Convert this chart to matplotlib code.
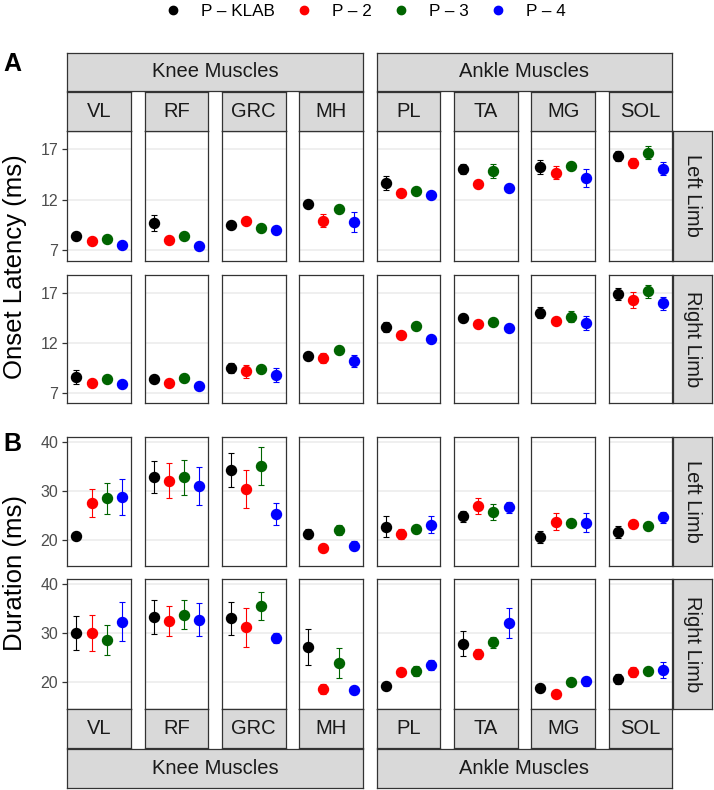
# -*- coding: utf-8 -*-

"""
Onset latency and burst duration per muscle, for the four protocols
"""

import matplotlib
matplotlib.use("Agg")
import matplotlib.pyplot as plt
from matplotlib.lines import Line2D

plt.rcParams['font.family'] = ['Liberation Sans', 'DejaVu Sans']

# data
muscles = ['VL', 'RF', 'GRC', 'MH', 'PL', 'TA', 'MG', 'SOL']
groups = ['Knee Muscles', 'Ankle Muscles']
limbs = ['Left Limb', 'Right Limb']
protocols = ['P – KLAB', 'P – 2', 'P – 3', 'P – 4']
colors = ['#000000', '#FF0000', '#006400', '#0000FF']

onset_left = [
    [8.43, 7.91, 8.10, 7.49],
    [9.73, 8.04, 8.40, 7.39],
    [9.47, 9.86, 9.21, 9.05],
    [11.58, 9.92, 11.12, 9.79],
    [13.69, 12.68, 12.91, 12.49],
    [15.02, 13.59, 14.82, 13.14],
    [15.25, 14.66, 15.34, 14.18],
    [16.35, 15.64, 16.64, 15.08],
]
onset_left_err = [
    [0.25, 0.15, 0.15, 0.15],
    [0.80, 0.15, 0.20, 0.15],
    [0.20, 0.20, 0.20, 0.20],
    [0.20, 0.65, 0.15, 1.00],
    [0.70, 0.15, 0.15, 0.15],
    [0.50, 0.15, 0.70, 0.15],
    [0.70, 0.65, 0.20, 0.90],
    [0.50, 0.50, 0.65, 0.65],
]
onset_right = [
    [8.59, 7.97, 8.43, 7.91],
    [8.40, 7.97, 8.46, 7.65],
    [9.50, 9.14, 9.40, 8.75],
    [10.70, 10.51, 11.32, 10.18],
    [13.59, 12.81, 13.69, 12.39],
    [14.50, 13.82, 14.11, 13.49],
    [14.99, 14.18, 14.60, 14.01],
    [16.87, 16.22, 17.13, 15.93],
]
onset_right_err = [
    [0.65, 0.15, 0.20, 0.15],
    [0.30, 0.15, 0.35, 0.15],
    [0.50, 0.60, 0.20, 0.70],
    [0.20, 0.50, 0.20, 0.60],
    [0.50, 0.15, 0.20, 0.15],
    [0.40, 0.15, 0.20, 0.15],
    [0.55, 0.20, 0.55, 0.70],
    [0.60, 0.80, 0.65, 0.65],
]
dur_left = [
    [20.82, 27.53, 28.49, 28.77],
    [32.81, 32.12, 32.81, 30.96],
    [34.25, 30.34, 35.14, 25.34],
    [21.30, 18.36, 22.12, 18.84],
    [22.74, 21.23, 22.26, 23.15],
    [24.86, 26.99, 25.68, 26.64],
    [20.62, 23.77, 23.42, 23.56],
    [21.71, 23.36, 22.95, 24.59],
]
dur_left_err = [
    [0.30, 2.90, 3.15, 3.60],
    [3.30, 3.60, 3.60, 3.90],
    [3.40, 3.90, 3.90, 2.20],
    [0.90, 0.90, 1.00, 0.90],
    [2.10, 1.00, 0.80, 1.80],
    [1.10, 1.60, 1.60, 1.20],
    [1.20, 1.80, 0.50, 2.00],
    [1.20, 0.60, 0.50, 1.20],
]
dur_right = [
    [30.00, 30.00, 28.63, 32.33],
    [33.29, 32.47, 33.77, 32.74],
    [33.01, 31.16, 35.55, 29.04],
    [27.19, 18.63, 23.90, 18.42],
    [19.18, 22.12, 22.26, 23.56],
    [27.88, 25.75, 28.15, 32.05],
    [18.84, 17.60, 20.00, 20.21],
    [20.68, 22.12, 22.26, 22.53],
]
dur_right_err = [
    [3.40, 3.60, 3.10, 3.90],
    [3.50, 3.00, 2.90, 3.40],
    [3.40, 3.90, 2.90, 1.00],
    [3.60, 1.00, 3.10, 0.70],
    [0.60, 0.60, 1.00, 1.00],
    [2.50, 1.00, 1.10, 3.10],
    [0.40, 0.70, 0.40, 0.90],
    [1.00, 1.10, 0.50, 1.60],
]

onset_ticks = [7, 12, 17]
dur_ticks = [20, 30, 40]

# layout (pixels)
W, H = 714, 790
fig = plt.figure(figsize=(W / 100, H / 100), dpi=100)

STRIP_FILL = '#D9D9D9'
BORDER = '#333333'
col_x = [67.3, 144.6, 221.9, 299.2, 376.7, 454.0, 531.3, 608.6]
col_w = 63.6
strip_x0, strip_x1 = 673.0, 711.7


def px_axes(x0, y0, x1, y1):
    return fig.add_axes([x0 / W, 1 - y1 / H, (x1 - x0) / W, (y1 - y0) / H])


def strip(x0, y0, x1, y1, label, rotation=0):
    ax = px_axes(x0, y0, x1, y1)
    ax.set_facecolor(STRIP_FILL)
    ax.set_xticks([])
    ax.set_yticks([])
    for s in ax.spines.values():
        s.set_color(BORDER)
        s.set_linewidth(0.9)
    ax.text(0.5, 0.5, label, transform=ax.transAxes, ha='center', va='center',
            fontsize=14.5, color='#1A1A1A', rotation=rotation)
    return ax


def panel(x0, y0, y1, values, errs, ylim, ticks, show_y):
    ax = px_axes(x0, y0, x0 + col_w, y1)
    ax.set_xlim(0.4, 4.6)
    ax.set_ylim(*ylim)
    ax.set_xticks([])
    ax.set_yticks(ticks)
    ax.grid(axis='y', color='#EBEBEB', linewidth=1.1)
    ax.set_axisbelow(True)
    for s in ax.spines.values():
        s.set_color(BORDER)
        s.set_linewidth(0.9)
    for i in range(4):
        ax.errorbar(i + 1, values[i], yerr=errs[i], fmt='o', color=colors[i],
                    ms=7.2, elinewidth=0.8, capsize=2.5, capthick=0.8, zorder=3)
    if show_y:
        ax.tick_params(axis='y', length=3.6, width=0.9, color=BORDER, pad=3,
                       labelsize=11.5, labelcolor='#4D4D4D')
    else:
        ax.tick_params(axis='y', length=0, labelleft=False)
    return ax


rows = [
    (131.0, 260.5, onset_left, onset_left_err, (6.0, 18.8), onset_ticks),
    (274.5, 403.0, onset_right, onset_right_err, (6.0, 18.8), onset_ticks),
    (437.0, 566.0, dur_left, dur_left_err, (14.7, 41.0), dur_ticks),
    (579.0, 708.5, dur_right, dur_right_err, (14.7, 41.0), dur_ticks),
]

for r, (y0, y1, vals, errs, ylim, ticks) in enumerate(rows):
    for c in range(8):
        panel(col_x[c], y0, y1, vals[c], errs[c], ylim, ticks, c == 0)
    strip(strip_x0, y0, strip_x1, y1, limbs[r % 2], rotation=-90)

# muscle strips, top and bottom
for c in range(8):
    strip(col_x[c], 92.3, col_x[c] + col_w, 130.7, muscles[c])
    strip(col_x[c], 708.5, col_x[c] + col_w, 747.7, muscles[c])

# group strips
for g in range(2):
    gx0 = col_x[g * 4]
    gx1 = col_x[g * 4 + 3] + col_w
    strip(gx0, 52.7, gx1, 91.0, groups[g])
    strip(gx0, 748.5, gx1, 787.7, groups[g])

# panel tags and axis titles
fig.text(12 / W, 1 - 64 / H, 'A', fontsize=18, fontweight='bold', ha='center', va='center')
fig.text(12 / W, 1 - 444 / H, 'B', fontsize=18, fontweight='bold', ha='center', va='center')
fig.text(15 / W, 1 - 267 / H, 'Onset Latency (ms)', fontsize=18.5, rotation=90,
         ha='center', va='center')
fig.text(15 / W, 1 - 573 / H, 'Duration (ms)', fontsize=18.5, rotation=90,
         ha='center', va='center')

# legend
handles = [Line2D([], [], marker='o', linestyle='none', color=col, ms=6)
           for col in colors]
fig.legend(handles, protocols, loc='center', bbox_to_anchor=(365 / W, 1 - 11 / H),
           ncol=4, frameon=False, fontsize=12.3, handlelength=1.0,
           handletextpad=1.1, columnspacing=1.25, borderpad=0)

fig.savefig('out.png', dpi=100)
